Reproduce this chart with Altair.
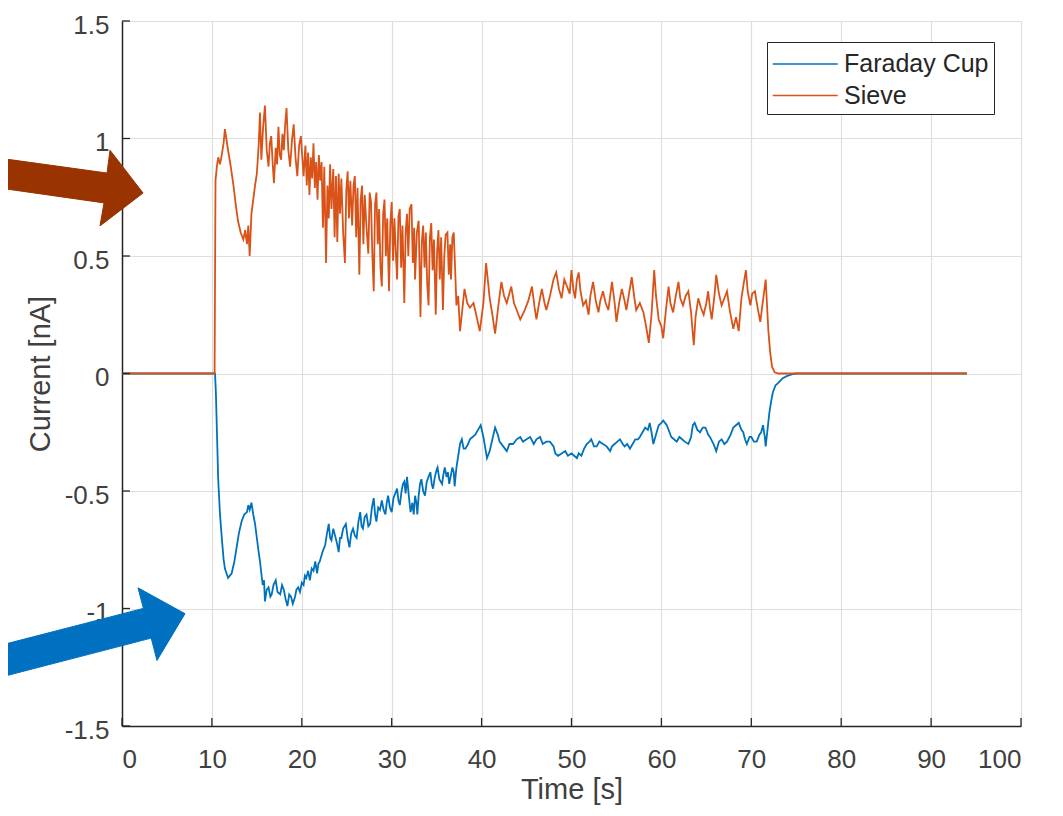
import altair as alt
import pandas as pd

# ---- data ----
sieve_points = [
    (0.0, 0.0), (10.3, 0.0), (10.4, 0.82), (10.55, 0.88), (10.7, 0.92), (10.9, 0.89), (11.1, 0.93),
    (11.3, 0.98), (11.45, 1.04), (11.6, 1.00), (11.8, 0.95), (12.1, 0.88), (12.4, 0.80), (12.65, 0.72),
    (12.9, 0.65), (13.2, 0.60), (13.5, 0.57), (13.7, 0.61), (13.9, 0.55), (14.05, 0.63), (14.2, 0.50),
    (14.4, 0.68), (14.6, 0.74), (14.8, 0.80), (15.0, 0.85), (15.2, 0.97), (15.35, 1.11), (15.5, 0.91),
    (15.7, 1.05), (15.9, 1.14), (16.1, 0.95), (16.3, 0.88), (16.45, 0.98), (16.6, 1.01), (16.75, 0.90),
    (16.9, 0.81), (17.1, 0.96), (17.25, 0.89), (17.4, 1.05), (17.55, 0.93), (17.7, 0.91), (17.85, 1.02),
    (18.0, 0.95), (18.15, 1.06), (18.3, 1.13), (18.5, 0.95), (18.7, 0.88), (18.9, 0.99), (19.1, 1.06),
    (19.3, 0.92), (19.5, 0.84), (19.7, 0.97), (19.9, 1.01),
    (20.0, 0.95), (20.2, 0.84), (20.4, 0.97), (20.55, 0.80), (20.7, 0.94), (20.85, 0.76), (21.0, 0.92),
    (21.15, 0.83), (21.3, 0.98), (21.45, 0.79), (21.6, 0.90), (21.75, 0.74), (21.9, 0.93), (22.05, 0.82),
    (22.2, 0.90), (22.35, 0.62), (22.5, 0.88), (22.7, 0.47), (22.85, 0.80), (23.0, 0.66), (23.15, 0.89),
    (23.3, 0.70), (23.5, 0.87), (23.65, 0.58), (23.8, 0.84), (23.95, 0.56), (24.1, 0.85), (24.25, 0.68),
    (24.4, 0.83), (24.6, 0.60), (24.8, 0.47), (24.95, 0.78), (25.1, 0.86), (25.25, 0.66), (25.4, 0.82),
    (25.6, 0.63), (25.75, 0.80), (25.9, 0.84), (26.05, 0.58), (26.2, 0.79), (26.4, 0.42), (26.55, 0.74),
    (26.7, 0.80), (26.85, 0.55), (27.0, 0.76), (27.2, 0.62), (27.4, 0.51), (27.55, 0.77), (27.7, 0.73),
    (27.85, 0.50), (28.0, 0.35), (28.15, 0.72), (28.3, 0.77), (28.45, 0.55), (28.6, 0.70), (28.75, 0.45),
    (28.9, 0.37), (29.05, 0.68), (29.2, 0.74), (29.35, 0.50), (29.5, 0.66), (29.7, 0.35), (29.85, 0.64),
    (30.0, 0.73), (30.15, 0.48), (30.3, 0.66), (30.45, 0.52), (30.6, 0.40), (30.75, 0.67), (30.9, 0.70),
    (31.05, 0.45), (31.2, 0.63), (31.4, 0.30), (31.55, 0.60), (31.7, 0.68), (31.85, 0.50), (32.0, 0.70),
    (32.2, 0.72), (32.35, 0.47), (32.5, 0.62), (32.6, 0.40), (32.8, 0.60), (33.0, 0.65), (33.2, 0.24),
    (33.35, 0.56), (33.5, 0.63), (33.65, 0.45), (33.8, 0.60), (33.95, 0.38), (34.1, 0.29), (34.25, 0.58),
    (34.4, 0.64), (34.55, 0.44), (34.7, 0.57), (34.9, 0.25), (35.05, 0.52), (35.2, 0.61), (35.35, 0.40),
    (35.5, 0.58), (35.7, 0.27), (35.85, 0.50), (36.0, 0.59), (36.2, 0.60), (36.35, 0.42), (36.5, 0.55),
    (36.6, 0.40), (36.75, 0.58), (36.9, 0.60), (37.05, 0.45), (37.2, 0.29), (37.4, 0.33), (37.6, 0.18),
    (38.1, 0.36), (38.4, 0.30), (38.7, 0.28), (39.1, 0.30), (39.4, 0.25), (39.8, 0.18), (40.2, 0.30),
    (40.5, 0.47), (40.9, 0.32), (41.2, 0.25), (41.5, 0.17), (41.9, 0.30), (42.2, 0.39), (42.5, 0.33),
    (42.8, 0.30), (43.3, 0.37), (43.6, 0.30), (43.9, 0.27), (44.3, 0.23), (44.8, 0.27), (45.2, 0.31),
    (45.6, 0.37), (45.9, 0.28), (46.1, 0.23), (46.4, 0.30), (46.7, 0.36), (47.0, 0.30), (47.2, 0.27),
    (47.6, 0.33), (48.0, 0.40), (48.3, 0.43), (48.6, 0.36), (48.9, 0.32), (49.2, 0.40), (49.5, 0.37),
    (49.8, 0.34), (50.0, 0.44), (50.2, 0.36), (50.4, 0.32), (50.6, 0.40), (50.8, 0.43), (51.0, 0.35),
    (51.3, 0.29), (51.6, 0.31), (51.9, 0.25), (52.1, 0.33), (52.4, 0.39), (52.7, 0.31), (53.0, 0.26),
    (53.2, 0.31), (53.5, 0.35), (53.8, 0.30), (54.1, 0.27), (54.3, 0.33), (54.5, 0.39), (54.8, 0.30),
    (55.0, 0.22), (55.3, 0.30), (55.6, 0.36), (55.9, 0.31), (56.1, 0.27), (56.4, 0.34), (56.7, 0.41),
    (57.0, 0.32), (57.2, 0.27), (57.6, 0.30), (58.0, 0.26), (58.3, 0.20), (58.6, 0.13), (58.9, 0.25),
    (59.2, 0.44), (59.4, 0.33), (59.7, 0.23), (60.0, 0.20), (60.2, 0.15), (60.5, 0.27), (60.8, 0.37),
    (61.0, 0.30), (61.3, 0.26), (61.6, 0.33), (61.9, 0.39), (62.1, 0.32), (62.4, 0.29), (62.7, 0.33),
    (63.0, 0.35), (63.3, 0.26), (63.6, 0.12), (63.8, 0.24), (64.1, 0.32), (64.4, 0.28), (64.7, 0.25),
    (65.0, 0.30), (65.2, 0.35), (65.4, 0.28), (65.6, 0.23), (65.9, 0.33), (66.1, 0.42), (66.4, 0.34),
    (66.7, 0.29), (67.0, 0.32), (67.3, 0.35), (67.6, 0.27), (68.0, 0.19), (68.3, 0.24), (68.6, 0.18),
    (68.9, 0.32), (69.1, 0.37), (69.4, 0.44), (69.6, 0.35), (69.9, 0.29), (70.1, 0.34), (70.4, 0.35),
    (70.7, 0.28), (71.0, 0.22), (71.3, 0.31), (71.6, 0.40), (71.9, 0.18), (72.1, 0.09), (72.3, 0.03),
    (72.6, 0.005), (73.0, 0.0), (94.0, 0.0),
]

faraday_points = [
    (0.0, 0.0), (10.35, 0.0), (10.45, -0.09), (10.7, -0.45), (10.9, -0.60), (11.1, -0.70), (11.3, -0.79),
    (11.45, -0.83), (11.8, -0.87), (12.0, -0.86), (12.2, -0.85), (12.5, -0.80), (12.75, -0.74),
    (13.0, -0.68), (13.3, -0.63), (13.6, -0.60), (13.9, -0.59), (14.05, -0.56), (14.2, -0.58),
    (14.4, -0.55), (14.6, -0.60), (14.8, -0.64), (15.0, -0.70), (15.2, -0.76), (15.35, -0.80),
    (15.5, -0.85), (15.65, -0.90), (15.8, -0.88), (15.9, -0.97), (16.1, -0.92), (16.3, -0.91),
    (16.5, -0.95), (16.65, -0.94), (16.85, -0.90), (17.1, -0.88), (17.3, -0.93), (17.6, -0.94),
    (17.8, -0.90), (18.0, -0.92), (18.2, -0.96), (18.4, -0.99), (18.6, -0.94), (18.8, -0.95),
    (19.0, -0.98), (19.25, -0.95), (19.4, -0.92), (19.6, -0.91), (19.8, -0.93), (20.0, -0.89),
    (20.2, -0.90), (20.35, -0.86), (20.5, -0.87), (20.7, -0.84), (20.9, -0.88), (21.1, -0.83),
    (21.3, -0.84), (21.5, -0.80), (21.7, -0.85), (21.85, -0.81), (22.0, -0.80), (22.3, -0.76),
    (22.6, -0.73), (22.8, -0.68), (23.0, -0.64), (23.15, -0.70), (23.3, -0.71), (23.5, -0.66),
    (23.7, -0.69), (23.9, -0.72), (24.1, -0.76), (24.25, -0.70), (24.4, -0.70), (24.6, -0.66),
    (24.9, -0.64), (25.1, -0.70), (25.3, -0.74), (25.5, -0.68), (25.7, -0.66), (25.9, -0.69),
    (26.1, -0.70), (26.3, -0.63), (26.5, -0.59), (26.65, -0.65), (26.8, -0.66), (27.0, -0.61),
    (27.2, -0.60), (27.4, -0.65), (27.6, -0.64), (27.8, -0.57), (28.0, -0.53), (28.15, -0.60),
    (28.3, -0.63), (28.5, -0.57), (28.7, -0.58), (28.9, -0.54), (29.1, -0.58), (29.3, -0.60),
    (29.45, -0.55), (29.6, -0.52), (29.8, -0.57), (30.0, -0.59), (30.2, -0.53), (30.4, -0.51),
    (30.6, -0.49), (30.75, -0.54), (30.9, -0.56), (31.1, -0.50), (31.25, -0.47), (31.4, -0.46),
    (31.55, -0.51), (31.7, -0.44), (31.9, -0.52), (32.1, -0.59), (32.3, -0.55), (32.45, -0.60),
    (32.6, -0.52), (32.75, -0.55), (32.85, -0.60), (33.0, -0.52), (33.15, -0.47), (33.3, -0.45),
    (33.5, -0.50), (33.7, -0.52), (33.9, -0.46), (34.1, -0.44), (34.3, -0.42), (34.45, -0.47),
    (34.6, -0.49), (34.8, -0.44), (35.0, -0.41), (35.1, -0.40), (35.3, -0.45), (35.6, -0.47),
    (35.75, -0.43), (35.9, -0.40), (36.1, -0.44), (36.25, -0.42), (36.4, -0.47), (36.6, -0.43),
    (36.75, -0.40), (36.9, -0.42), (37.0, -0.48), (37.2, -0.40), (37.4, -0.35), (37.6, -0.30),
    (37.8, -0.28), (38.0, -0.32), (38.2, -0.32), (38.5, -0.30), (38.7, -0.28), (39.0, -0.27),
    (39.3, -0.26), (39.6, -0.24), (39.9, -0.22), (40.2, -0.27), (40.6, -0.36), (40.9, -0.33),
    (41.2, -0.28), (41.5, -0.23), (41.8, -0.26), (42.0, -0.29), (42.4, -0.31), (42.8, -0.33),
    (43.1, -0.30), (43.5, -0.30), (43.9, -0.28), (44.3, -0.27), (44.6, -0.29), (45.0, -0.28),
    (45.4, -0.27), (45.8, -0.30), (46.1, -0.28), (46.5, -0.27), (46.8, -0.30), (47.2, -0.29),
    (47.6, -0.29), (48.0, -0.31), (48.2, -0.34), (48.5, -0.35), (48.9, -0.34), (49.3, -0.33),
    (49.6, -0.35), (50.0, -0.34), (50.3, -0.35), (50.6, -0.36), (50.8, -0.34), (51.1, -0.35),
    (51.4, -0.32), (51.7, -0.30), (52.0, -0.29), (52.2, -0.28), (52.5, -0.31), (52.8, -0.31),
    (53.1, -0.29), (53.5, -0.30), (53.9, -0.31), (54.3, -0.33), (54.5, -0.31), (54.8, -0.30),
    (55.1, -0.29), (55.4, -0.28), (55.7, -0.30), (55.9, -0.31), (56.2, -0.30), (56.5, -0.32),
    (56.8, -0.30), (57.1, -0.28), (57.4, -0.28), (57.6, -0.27), (57.9, -0.25), (58.2, -0.23),
    (58.5, -0.24), (58.7, -0.21), (58.9, -0.25), (59.1, -0.30), (59.4, -0.26), (59.7, -0.22),
    (60.0, -0.21), (60.2, -0.20), (60.4, -0.21), (60.6, -0.22), (60.9, -0.25), (61.1, -0.27),
    (61.4, -0.28), (61.7, -0.29), (62.0, -0.27), (62.3, -0.28), (62.6, -0.29), (63.0, -0.30),
    (63.3, -0.27), (63.5, -0.22), (63.7, -0.21), (64.0, -0.24), (64.3, -0.25), (64.6, -0.23),
    (64.9, -0.23), (65.2, -0.26), (65.4, -0.27), (65.8, -0.30), (66.1, -0.33), (66.4, -0.29),
    (66.7, -0.28), (67.0, -0.30), (67.3, -0.29), (67.7, -0.26), (68.0, -0.23), (68.3, -0.22),
    (68.6, -0.21), (68.9, -0.24), (69.1, -0.25), (69.3, -0.28), (69.5, -0.30), (69.8, -0.27),
    (70.0, -0.27), (70.3, -0.29), (70.6, -0.29), (70.9, -0.26), (71.1, -0.25), (71.3, -0.22),
    (71.5, -0.27), (71.6, -0.31), (71.8, -0.24), (72.0, -0.17), (72.2, -0.12), (72.4, -0.08),
    (72.7, -0.05), (73.0, -0.04), (73.5, -0.02), (74.0, -0.01), (74.5, -0.004), (75.0, 0.0),
    (94.0, 0.0),
]

series_names = ["Faraday Cup", "Sieve"]
series_colors = ["#0072BD", "#D95319"]
x_ticks = [0, 10, 20, 30, 40, 50, 60, 70, 80, 90, 100]
y_ticks = [-1.5, -1.0, -0.5, 0.0, 0.5, 1.0, 1.5]

# annotation arrows (polygon outlines in data units)
brown_arrow_x = [-13.57, -1.67, -1.33, 2.34, -2.45, -2.00, -13.57]
brown_arrow_y = [0.916, 0.853, 0.950, 0.768, 0.628, 0.726, 0.789]
blue_arrow_x = [-13.57, 2.38, 1.78, 7.01, 3.89, 3.25, -13.57]
blue_arrow_y = [-1.157, -0.9995, -0.912, -1.022, -1.221, -1.126, -1.293]

# ---- tables ----
rows = []
for name, pts in (("Faraday Cup", faraday_points), ("Sieve", sieve_points)):
    for i, (t, v) in enumerate(pts):
        rows.append({"time": t, "current": v, "series": name, "idx": i})
df = pd.DataFrame(rows)

xt_df = pd.DataFrame({"time": x_ticks})
yt_df = pd.DataFrame({"current": y_ticks})
brown_df = pd.DataFrame({"time": brown_arrow_x, "current": brown_arrow_y, "k": range(len(brown_arrow_x))})
blue_df = pd.DataFrame({"time": blue_arrow_x, "current": blue_arrow_y, "k": range(len(blue_arrow_x))})

FONT = "Liberation Sans"
PW, PH = 899, 705

x_scale = alt.Scale(domain=[0, 100], nice=False, zero=False)
y_scale = alt.Scale(domain=[-1.5, 1.5], nice=False, zero=False)

x_axis = alt.Axis(values=x_ticks, title="Time [s]", labelBaseline="alphabetic",
                  labelPadding=41, titleX=PW / 2, titleY=72,
                  titleBaseline="alphabetic", titleAlign="center")
y_axis = alt.Axis(values=y_ticks, title="Current [nA]", labelExpr="toString(datum.value)",
                  labelBaseline="alphabetic", labelOffset=12, labelPadding=13,
                  titleAngle=270, titleX=-82, titleY=PH / 2,
                  titleBaseline="middle", titleAlign="center")

x_enc = alt.X("time:Q", scale=x_scale, axis=x_axis, title="Time [s]")
y_enc = alt.Y("current:Q", scale=y_scale, axis=y_axis, title="Current [nA]")

lines = alt.Chart(df).mark_line(strokeWidth=1.8, clip=True).encode(
    x=x_enc,
    y=y_enc,
    color=alt.Color("series:N",
                    scale=alt.Scale(domain=series_names, range=series_colors),
                    legend=alt.Legend(title=None, orient="none", legendX=645, legendY=21,
                                      symbolType="M-1,0L3,0", symbolSize=1056,
                                      symbolStrokeWidth=1.5, labelOffset=38,
                                      labelFontSize=25, labelFont=FONT, labelColor="#262626",
                                      padding=5, rowPadding=1.5, fillColor="white",
                                      strokeColor="#262626")),
    order="idx:Q",
)

x_tick_marks = alt.Chart(xt_df).mark_rule(color="#262626", strokeWidth=1.3).encode(
    x=x_enc,
    y=alt.value(PH), y2=alt.value(PH - 8),
)
y_tick_marks = alt.Chart(yt_df).mark_rule(color="#262626", strokeWidth=1.3).encode(
    y=y_enc,
    x=alt.value(0), x2=alt.value(8),
)

brown_arrow = alt.Chart(brown_df).mark_line(
    fill="#993300", stroke="#993300", strokeWidth=1, clip=False, interpolate="linear-closed"
).encode(x=x_enc, y=y_enc, order="k:Q")
blue_arrow = alt.Chart(blue_df).mark_line(
    fill="#0070C0", stroke="#0070C0", strokeWidth=1, clip=False, interpolate="linear-closed"
).encode(x=x_enc, y=y_enc, order="k:Q")

chart = alt.layer(lines, x_tick_marks, y_tick_marks, brown_arrow, blue_arrow).properties(
    width=PW, height=PH,
    autosize=alt.AutoSizeParams(type="none"),
    padding={"left": 114, "top": 13, "right": 34, "bottom": 80},
    background="white",
).configure_axis(
    grid=True, gridColor="#dedede", gridWidth=1.2,
    domainColor="#262626", domainWidth=1.5,
    ticks=False, tickSize=0,
    labelFont=FONT, labelFontSize=26, labelColor="#404040",
    titleFont=FONT, titleFontSize=29, titleColor="#404040", titleFontWeight="normal",
).configure_view(stroke=None)

chart.save("out.html", embed_options={"renderer": "svg", "actions": False})
